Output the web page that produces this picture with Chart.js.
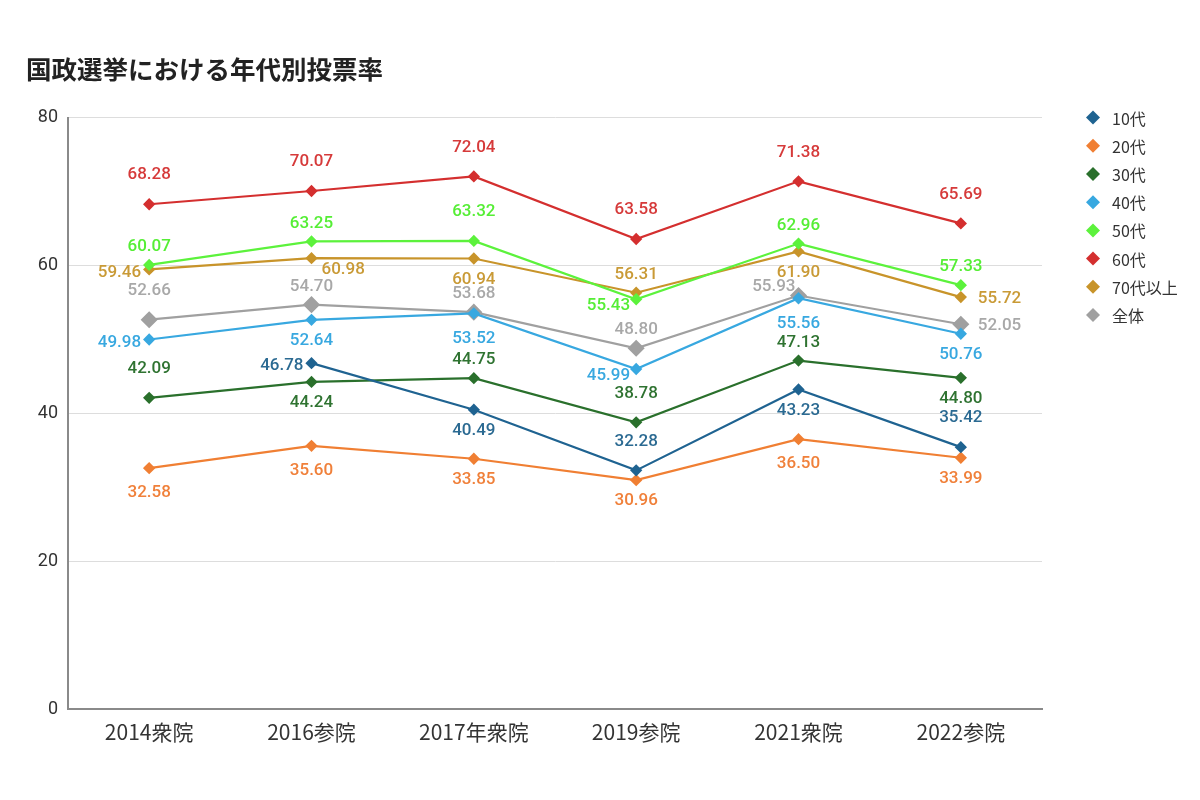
<!DOCTYPE html>
<html>
<head>
<meta charset="utf-8">
<script src="https://cdn.jsdelivr.net/npm/chart.js@4/dist/chart.umd.min.js"></script>
<style>
  html, body { margin: 0; padding: 0; background: #ffffff; }
  #wrap { width: 1200px; height: 800px; }
</style>
</head>
<body>
<div id="wrap"><canvas id="c" width="1200" height="800"></canvas></div>
<script>
// ---- data ----
const categories = ['2014衆院', '2016参院', '2017年衆院', '2019参院', '2021衆院', '2022参院'];
const seriesNames = ['10代', '20代', '30代', '40代', '50代', '60代', '70代以上', '全体'];
const teens      = [null, 46.78, 40.49, 32.28, 43.23, 35.42];
const twenties   = [32.58, 35.60, 33.85, 30.96, 36.50, 33.99];
const thirties   = [42.09, 44.24, 44.75, 38.78, 47.13, 44.80];
const forties    = [49.98, 52.64, 53.52, 45.99, 55.56, 50.76];
const fifties    = [60.07, 63.25, 63.32, 55.43, 62.96, 57.33];
const sixties    = [68.28, 70.07, 72.04, 63.58, 71.38, 65.69];
const seventies  = [59.46, 60.98, 60.94, 56.31, 61.90, 55.72];
const overall    = [52.66, 54.70, 53.68, 48.80, 55.93, 52.05];
const yTicks     = [0, 20, 40, 60, 80];

// ---- styling (kept apart from data) ----
const colors = ['#1f6391', '#f07f33', '#2a702c', '#38a8e0', '#5cf23c', '#d42f2f', '#c8942a', '#a0a0a0'];
const labelColors = ['#2b6a92', '#f0803a', '#2f7331', '#38a8e0', '#55ee35', '#d63a3a', '#c99a36', '#a8a8a8'];
const pointSizes = [4.6, 4.6, 4.6, 4.6, 4.6, 4.6, 4.6, 7];
// label placement codes: A far above, a near above, b below, B further below,
// l left, r right, bl below-left, br below-right, al above-left
const labelPlacement = [
  [null, 'l', 'b', 'A', 'b', 'A'],
  ['B', 'B', 'b', 'b', 'B', 'b'],
  ['A', 'b', 'a', 'A', 'a', 'b'],
  ['l', 'b', 'B', 'bl', 'B', 'b'],
  ['a', 'a', 'A', 'bl', 'a', 'a'],
  ['A', 'A', 'A', 'A', 'A', 'A'],
  ['l', 'br', 'b', 'a', 'b', 'r'],
  ['A', 'a', 'a', 'a', 'al', 'r']
];

const allSeries = [teens, twenties, thirties, forties, fifties, sixties, seventies, overall];

const datasets = allSeries.map((vals, i) => ({
  label: seriesNames[i],
  data: vals,
  borderColor: colors[i],
  backgroundColor: colors[i],
  pointBackgroundColor: colors[i],
  pointBorderColor: colors[i],
  pointStyle: 'rectRot',
  pointRadius: pointSizes[i],
  pointHoverRadius: pointSizes[i],
  borderWidth: 2.2,
  tension: 0,
  spanGaps: false
}));

const valueLabels = {
  id: 'valueLabels',
  afterDatasetsDraw(chart) {
    const ctx = chart.ctx;
    ctx.save();
    ctx.font = '500 17px Roboto, "Noto Sans", sans-serif';
    ctx.textBaseline = 'middle';
    chart.data.datasets.forEach((ds, i) => {
      const meta = chart.getDatasetMeta(i);
      meta.data.forEach((pt, j) => {
        const v = ds.data[j];
        if (v === null || v === undefined) return;
        const code = labelPlacement[i][j];
        const txt = v.toFixed(2);
        let x = pt.x, y = pt.y, align = 'center';
        switch (code) {
          case 'A': y -= 29; break;
          case 'a': y -= 18; break;
          case 'b': y += 21; break;
          case 'B': y += 25; break;
          case 'l': x -= 8; y += 3; align = 'right'; break;
          case 'r': x += 17; y += 2; align = 'left'; break;
          case 'bl': x -= 6; y += 7; align = 'right'; break;
          case 'br': x += 10; y += 12; align = 'left'; break;
          case 'al': x -= 3; y -= 9; align = 'right'; break;
        }
        ctx.textAlign = align;
        ctx.fillStyle = labelColors[i];
        ctx.fillText(txt, x, y);
      });
    });
    ctx.restore();
  }
};

const sideLegend = {
  id: 'sideLegend',
  afterDraw(chart) {
    const ctx = chart.ctx;
    const area = chart.chartArea;
    ctx.save();
    ctx.font = '16px "Noto Sans CJK JP", "Noto Sans", sans-serif';
    ctx.textBaseline = 'middle';
    ctx.textAlign = 'left';
    chart.data.datasets.forEach((ds, i) => {
      const cy = area.top + i * 28.2;
      const cx = area.right + 51;
      const r = 7;
      ctx.fillStyle = ds.borderColor;
      ctx.beginPath();
      ctx.moveTo(cx, cy - r);
      ctx.lineTo(cx + r, cy);
      ctx.lineTo(cx, cy + r);
      ctx.lineTo(cx - r, cy);
      ctx.closePath();
      ctx.fill();
      ctx.fillStyle = '#333333';
      ctx.fillText(ds.label, cx + 19, cy + 1);
    });
    ctx.restore();
  }
};

new Chart(document.getElementById('c'), {
  type: 'line',
  data: { labels: categories, datasets: datasets },
  plugins: [valueLabels, sideLegend],
  options: {
    responsive: false,
    devicePixelRatio: 1,
    animation: false,
    layout: { padding: { top: 54, left: 26, right: 158, bottom: 31 } },
    plugins: {
      legend: { display: false },
      tooltip: { enabled: false },
      title: {
        display: true,
        text: '国政選挙における年代別投票率',
        align: 'start',
        color: '#222222',
        font: { family: '"Noto Sans CJK JP", sans-serif', size: 25.5, weight: 'bold' },
        padding: { top: 0, bottom: 33 }
      }
    },
    scales: {
      x: {
        offset: true,
        grid: { display: false, drawTicks: false },
        border: { display: true, color: '#8a8a8a', width: 2 },
        ticks: {
          color: '#333333',
          padding: 10,
          maxRotation: 0,
          font: { family: '"Noto Sans CJK JP", sans-serif', size: 21 }
        },
        afterFit(scale) { scale.height = 60; }
      },
      y: {
        min: 0,
        max: 80,
        afterBuildTicks(scale) { scale.ticks = yTicks.map(v => ({ value: v })); },
        grid: { color: '#dddddd', lineWidth: 1, drawTicks: false },
        border: { display: true, color: '#8a8a8a', width: 2 },
        ticks: {
          color: '#333333',
          padding: 10,
          font: { family: 'Roboto, "Noto Sans", sans-serif', size: 18 }
        },
        afterFit(scale) { scale.width = 42; }
      }
    }
  }
});
</script>
</body>
</html>
